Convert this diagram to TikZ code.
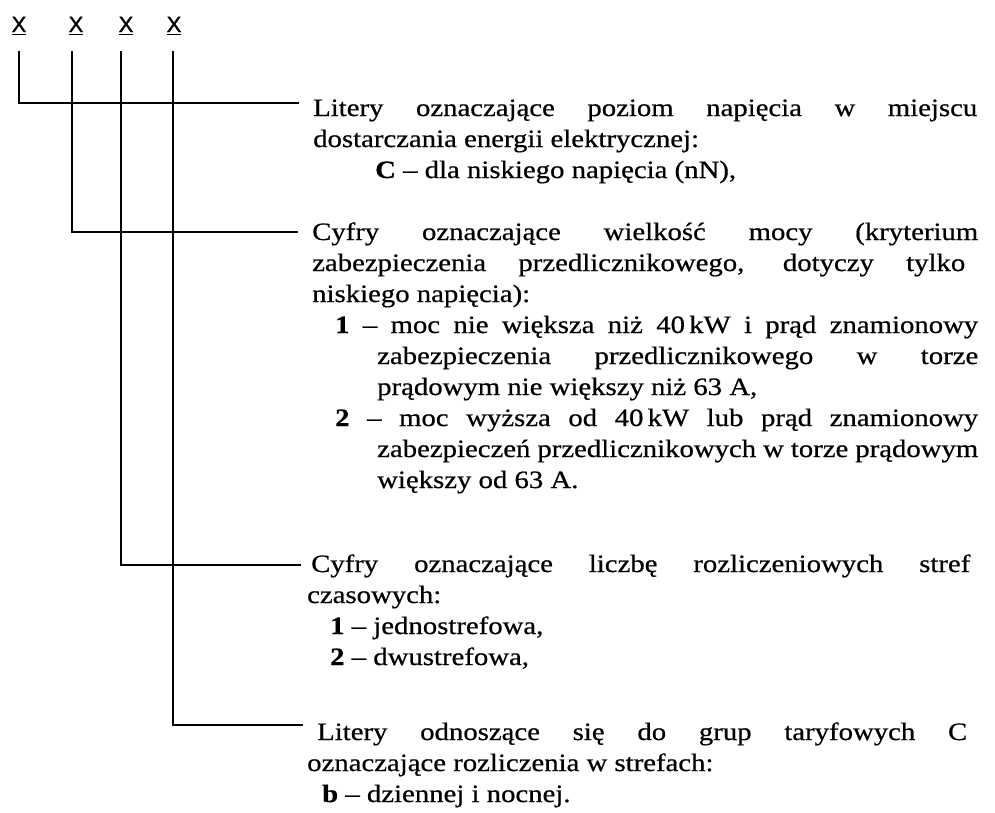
\documentclass[tikz,border=0pt]{standalone}
\usepackage{fontspec}
\setmainfont{Liberation Serif}[FakeStretch=1.15,FakeBold=0.6]
\newfontfamily\xfont{Liberation Sans}[FakeBold=1.2]
\newcommand\jl[2]{\makebox[#1pt][s]{#2}}
\newcommand\ulx{\setbox0\hbox{X}\rlap{\rule[-3.2pt]{\wd0}{1.7pt}}\box0}
\tikzset{
  txt/.style={anchor=base west, inner sep=0pt, font=\fontsize{25}{29}\selectfont},
  xlet/.style={anchor=base, inner sep=0pt, font=\xfont\fontsize{22}{26}\selectfont},
  conn/.style={line width=1.8pt, line cap=rect}
}
\begin{document}
\begin{tikzpicture}[x=1pt,y=-1pt]
\useasboundingbox (0,0) rectangle (995,812);
% code letters
\node[xlet] (x1) at (19,32) {\ulx};
\node[xlet] (x2) at (76,32) {\ulx};
\node[xlet] (x3) at (126,32) {\ulx};
\node[xlet] (x4) at (174,32) {\ulx};
% connector coordinates
\coordinate (t1) at (19,52);
\coordinate (t2) at (72,52);
\coordinate (t3) at (121,52);
\coordinate (t4) at (173,52);
\coordinate (e1) at (298,103);
\coordinate (e2) at (297,232);
\coordinate (e3) at (300,565);
\coordinate (e4) at (302,725);
\draw[conn] (t1) |- (e1);
\draw[conn] (t2) |- (e2);
\draw[conn] (t3) |- (e3);
\draw[conn] (t4) |- (e4);
% block 1
\node[txt] (a1) at (313,116) {\jl{664}{Litery oznaczające poziom napięcia w miejscu}};
\node[txt] (a2) at (313,147) {dostarczania energii elektrycznej:};
\node[txt] (a3) at (375,178) {\textbf{C} – dla niskiego napięcia (nN),};
% block 2
\node[txt] (b1) at (312,240) {\jl{666}{Cyfry oznaczające wielkość mocy (kryterium}};
\node[txt] (b2) at (312,271) {\jl{653}{zabezpieczenia przedlicznikowego, dotyczy tylko}};
\node[txt] (b3) at (312,302) {niskiego napięcia):};
\node[txt] (b4) at (335,333) {\jl{643}{\textbf{1} – moc nie większa niż 40\,kW i prąd znamionowy}};
\node[txt] (b5) at (377,364) {\jl{601}{zabezpieczenia przedlicznikowego w torze}};
\node[txt] (b6) at (377,395) {prądowym nie większy niż 63 A,};
\node[txt] (b7) at (335,426) {\jl{643}{\textbf{2} – moc wyższa od 40\,kW lub prąd znamionowy}};
\node[txt] (b8) at (377,457) {\jl{601}{zabezpieczeń przedlicznikowych w torze prądowym}};
\node[txt] (b9) at (377,488) {większy od 63 A.};
% block 3
\node[txt] (c1) at (311,572) {\jl{659}{Cyfry oznaczające liczbę rozliczeniowych stref}};
\node[txt] (c2) at (307,603) {czasowych:};
\node[txt] (c3) at (330,634) {\textbf{1} – jednostrefowa,};
\node[txt] (c4) at (330,665) {\textbf{2} – dwustrefowa,};
% block 4
\node[txt] (d1) at (317,740) {\jl{650}{Litery odnoszące się do grup taryfowych C}};
\node[txt] (d2) at (307,771) {oznaczające rozliczenia w strefach:};
\node[txt] (d3) at (322,802) {\textbf{b} – dziennej i nocnej.};
\end{tikzpicture}
\end{document}
